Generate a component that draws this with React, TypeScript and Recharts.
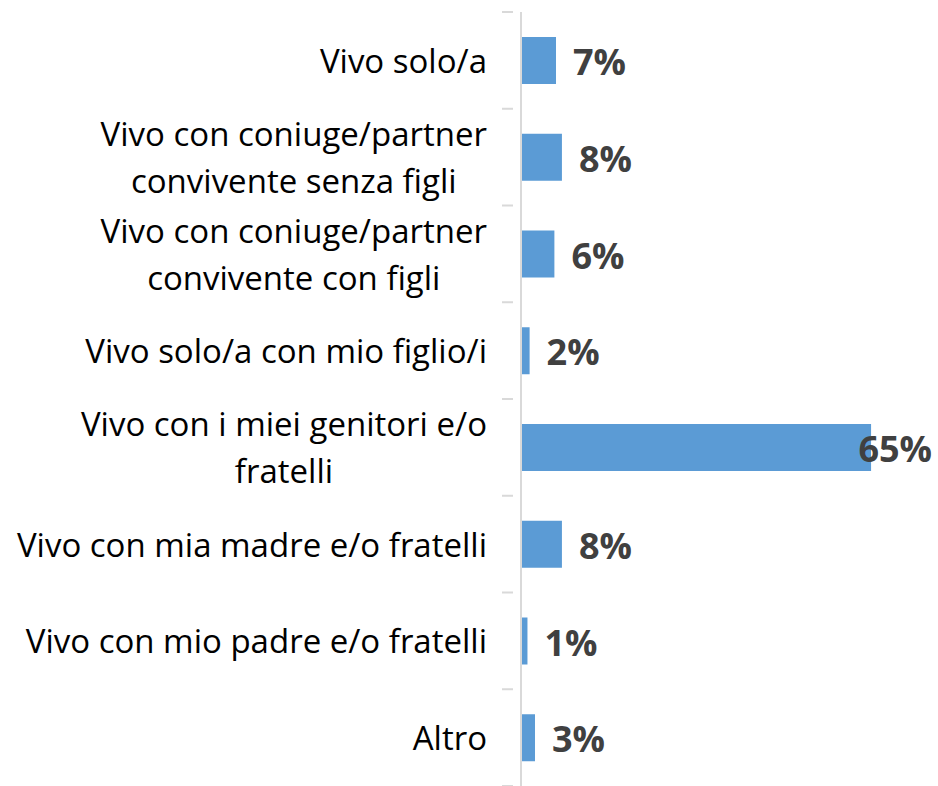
import { BarChart, Bar, XAxis, YAxis, LabelList } from 'recharts';

// categories (multi-line labels split by \n)
const categories = [
  'Vivo solo/a',
  'Vivo con coniuge/partner\nconvivente senza figli',
  'Vivo con coniuge/partner\nconvivente con figli',
  'Vivo solo/a con mio figlio/i',
  'Vivo con i miei genitori e/o\nfratelli',
  'Vivo con mia madre e/o fratelli',
  'Vivo con mio padre e/o fratelli',
  'Altro',
];
const values = [6.5, 7.6, 6.2, 1.6, 65, 7.6, 1.2, 2.6];

const data = categories.map((name, i) => ({ name, value: values[i] }));

const W = 938;
const H = 786;
const TOP = 12;
const BOTTOM = 0;
const AXIS_W = 521;
const BAND = (H - TOP - BOTTOM) / categories.length;

const CAT_FONT = "'Open Sans', sans-serif";
const CAT_SIZE = 33;
const VAL_FONT = "'Open Sans', sans-serif";

let ctx: CanvasRenderingContext2D | null = null;
function textWidth(s: string, font: string) {
  if (!ctx) ctx = document.createElement('canvas').getContext('2d');
  if (!ctx) return s.length * 14;
  ctx.font = font;
  return ctx.measureText(s).width;
}

function CategoryTick(props: any) {
  const { x, y, payload, index } = props;
  const lines: string[] = String(payload.value).split('\n');
  const font = `${CAT_SIZE}px ${CAT_FONT}`;
  const widths = lines.map((l) => textWidth(l, font));
  const maxW = Math.max(...widths);
  const right = x - 26;
  const cx = right - maxW / 2;
  const lineH = 47;
  const y0 = y - ((lines.length - 1) * lineH) / 2;
  return (
    <g>
      <line x1={x - 11} x2={x} y1={y - BAND / 2} y2={y - BAND / 2} stroke="#D9D9D9" strokeWidth={2} />
      {index === categories.length - 1 && (
        <line x1={x - 11} x2={x} y1={y + BAND / 2} y2={y + BAND / 2} stroke="#D9D9D9" strokeWidth={2} />
      )}
      {lines.map((l, i) => (
        <text
          key={i}
          x={lines.length > 1 ? cx : right}
          y={y0 + i * lineH}
          textAnchor={lines.length > 1 ? 'middle' : 'end'}
          dominantBaseline="central"
          fill="#000000"
          fontSize={CAT_SIZE}
          fontFamily={CAT_FONT}
        >
          {l}
        </text>
      ))}
    </g>
  );
}

function ValueLabel(props: any) {
  const { x, y, width, height, value } = props;
  const label = `${Math.round(value)}%`;
  const font = `bold 36px ${VAL_FONT}`;
  const tw = textWidth(label, font);
  const lx = Math.min(x + width + 17, W - 6 - tw);
  return (
    <text
      x={lx}
      y={y + height / 2 + 1}
      dominantBaseline="central"
      fill="#404040"
      fontSize={36}
      fontWeight="bold"
      fontFamily={VAL_FONT}
    >
      {label}
    </text>
  );
}

export default function App() {
  return (
    <div style={{ position: 'absolute', left: 0, top: 0, width: W, height: H, background: '#fff' }}>
      <BarChart
        width={W}
        height={H}
        data={data}
        layout="vertical"
        margin={{ top: TOP, right: 40, bottom: BOTTOM, left: 0 }}
        barCategoryGap={0}
      >
        <XAxis type="number" domain={[0, 70]} hide />
        <YAxis
          type="category"
          dataKey="name"
          width={AXIS_W}
          axisLine={{ stroke: '#D9D9D9', strokeWidth: 2 }}
          tickLine={false}
          tick={<CategoryTick />}
          interval={0}
        />
        <Bar dataKey="value" fill="#5B9BD5" barSize={47} isAnimationActive={false}>
          <LabelList dataKey="value" content={<ValueLabel />} />
        </Bar>
      </BarChart>
    </div>
  );
}
